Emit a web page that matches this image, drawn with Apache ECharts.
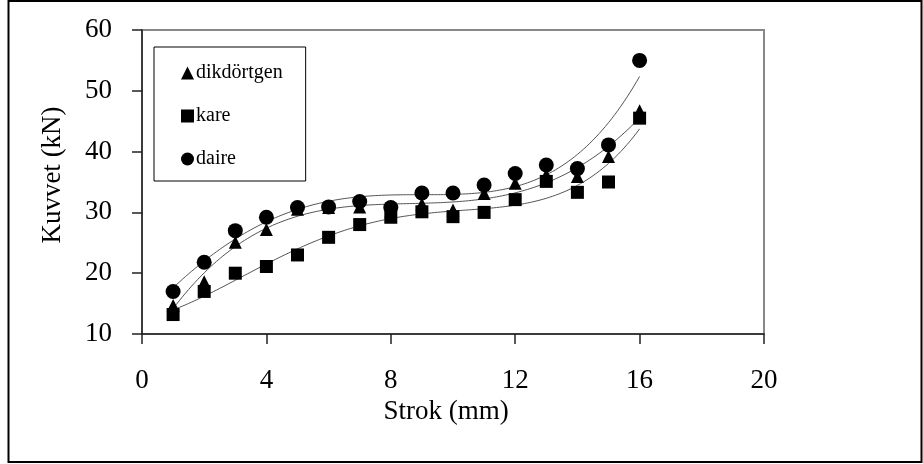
<!DOCTYPE html>
<html>
<head>
<meta charset="utf-8">
<script src="https://cdn.jsdelivr.net/npm/echarts@6/dist/echarts.min.js"></script>
<style>
html,body{margin:0;padding:0;background:#fff;}
#chart{width:923px;height:464px;}
</style>
</head>
<body>
<div id="chart"></div>
<script>
// Data
var strok = [1,2,3,4,5,6,7,8,9,10,11,12,13,14,15,16];
var dikdortgen = [14.7,18.6,25.1,27.2,30.5,30.8,30.9,30.2,31.4,30.4,33.1,34.8,36.2,35.9,39.2,46.7];
var kare = [13.2,17.0,20.0,21.1,23.0,25.9,28.0,29.2,30.1,29.3,30.0,32.1,35.1,33.3,35.0,45.5];
var daire = [17.0,21.8,27.0,29.2,30.8,30.9,31.8,30.8,33.2,33.2,34.5,36.4,37.8,37.2,41.1,55.0];
var xTicks = [0,4,8,12,16,20];
var yTicks = [10,20,30,40,50,60];
var seriesNames = ['dikdörtgen','kare','daire'];
var trendOrder = 4;

// least-squares polynomial trend (like Excel polynomial trendline)
function polyfit(xs, ys, order){
  var n = order + 1, A = [], i, j, k;
  for(i=0;i<n;i++){ A.push(new Array(n+1).fill(0)); }
  for(k=0;k<xs.length;k++){
    for(i=0;i<n;i++){
      for(j=0;j<n;j++){ A[i][j] += Math.pow(xs[k], i+j); }
      A[i][n] += Math.pow(xs[k], i) * ys[k];
    }
  }
  for(i=0;i<n;i++){
    var p = i;
    for(j=i+1;j<n;j++){ if(Math.abs(A[j][i])>Math.abs(A[p][i])) p=j; }
    var t=A[i]; A[i]=A[p]; A[p]=t;
    for(j=i+1;j<n;j++){
      var f = A[j][i]/A[i][i];
      for(k=i;k<=n;k++){ A[j][k] -= f*A[i][k]; }
    }
  }
  var c = new Array(n).fill(0);
  for(i=n-1;i>=0;i--){
    var s = A[i][n];
    for(j=i+1;j<n;j++){ s -= A[i][j]*c[j]; }
    c[i] = s/A[i][i];
  }
  return c;
}
function trend(ys){
  var c = polyfit(strok, ys, trendOrder), out = [];
  var x0 = strok[0], x1 = strok[strok.length-1];
  for(var x=x0; x<=x1+1e-9; x+=0.1){
    var v=0; for(var i=0;i<c.length;i++){ v += c[i]*Math.pow(x,i); }
    out.push([x, v]);
  }
  return out;
}
function pts(ys){ return strok.map(function(x,i){ return [x, ys[i]]; }); }

var font = 'Liberation Serif';
var chart = echarts.init(document.getElementById('chart'), null, {renderer:'canvas'});
var lineStyle = {color:'#555', width:1};
var mk = {color:'#000', opacity:1};
chart.setOption({
  animation:false,
  backgroundColor:'#fff',
  textStyle:{fontFamily:font},
  graphic:[{
    type:'rect', shape:{x:8.5,y:1,width:913,height:461},
    style:{fill:'none', stroke:'#000', lineWidth:2}, z:100
  }],
  grid:{left:142, right:159, top:30, bottom:130, show:true, borderColor:'#888', borderWidth:2, backgroundColor:'transparent'},
  legend:{
    orient:'vertical', left:154, top:47, width:162,
    padding:[16,23,12,27], itemGap:23, itemWidth:13, itemHeight:13,
    backgroundColor:'#fff', borderColor:'#000', borderWidth:1,
    textStyle:{fontFamily:font, fontSize:20, color:'#000', padding:[0,0,0,-3]},
    data:[
      {name:seriesNames[0], icon:'triangle', itemStyle:mk},
      {name:seriesNames[1], icon:'rect', itemStyle:mk},
      {name:seriesNames[2], icon:'circle', itemStyle:mk}
    ]
  },
  xAxis:{
    type:'value', min:0, max:20, interval:4,
    name:'Strok (mm)', nameLocation:'middle', nameGap:63,
    nameTextStyle:{fontFamily:font, fontSize:27, color:'#000', padding:[0,14,0,0]},
    axisLine:{show:true, onZero:false, lineStyle:{color:'#222', width:1.5}},
    axisTick:{show:true, length:10, lineStyle:{color:'#222', width:1.5}},
    axisLabel:{fontFamily:font, fontSize:27, color:'#000', margin:33,
      formatter:function(v){ return xTicks.indexOf(v)>=0 ? String(v) : ''; }},
    splitLine:{show:false}
  },
  yAxis:{
    type:'value', min:10, max:60, interval:10,
    name:'Kuvvet (kN)', nameLocation:'middle', nameGap:76, nameRotate:90,
    nameTextStyle:{fontFamily:font, fontSize:27, color:'#000', padding:[0,0,0,14]},
    axisLine:{show:true, onZero:false, lineStyle:{color:'#222', width:1.5}},
    axisTick:{show:true, length:10, lineStyle:{color:'#222', width:1.5}},
    axisLabel:{fontFamily:font, fontSize:27, color:'#000', margin:30,
      formatter:function(v){ return yTicks.indexOf(v)>=0 ? String(v) : ''; }},
    splitLine:{show:false}
  },
  series:[
    {name:'t0', type:'line', data:trend(dikdortgen), showSymbol:false, lineStyle:lineStyle, silent:true, z:1},
    {name:'t1', type:'line', data:trend(kare), showSymbol:false, lineStyle:lineStyle, silent:true, z:1},
    {name:'t2', type:'line', data:trend(daire), showSymbol:false, lineStyle:lineStyle, silent:true, z:1},
    {name:seriesNames[1], type:'scatter', symbol:'rect', symbolSize:13, data:pts(kare), itemStyle:mk, z:3},
    {name:seriesNames[0], type:'scatter', symbol:'triangle', symbolSize:13, data:pts(dikdortgen), itemStyle:mk, z:3},
    {name:seriesNames[2], type:'scatter', symbol:'circle', symbolSize:15, data:pts(daire), itemStyle:mk, z:4}
  ]
});
</script>
</body>
</html>
